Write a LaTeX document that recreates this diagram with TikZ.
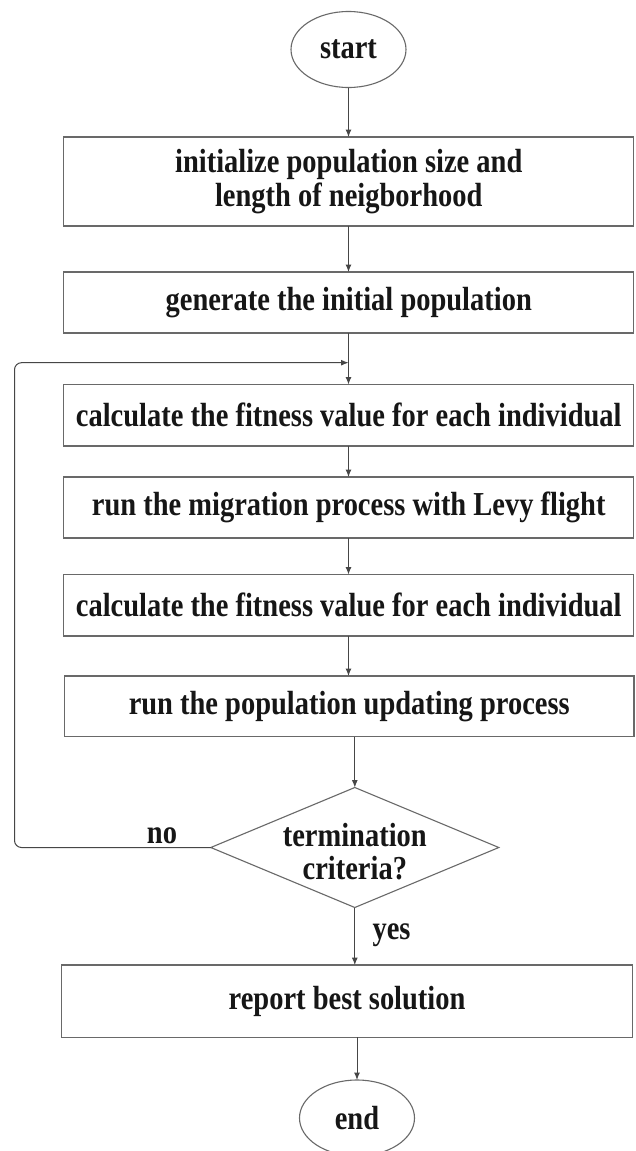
\documentclass[tikz,border=0pt]{standalone}
\usepackage{fontspec}
\newfontfamily\flowfont{Liberation Serif}[FakeStretch=0.85]
\usetikzlibrary{shapes.geometric,arrows.meta}

\definecolor{ink}{RGB}{22,22,22}
\definecolor{edge}{RGB}{105,105,105}
\definecolor{wire}{RGB}{70,70,70}

\tikzset{
  txt/.style={font=\flowfont\bfseries\fontsize{33.5}{33.5}\selectfont, text=ink, inner sep=0pt, outer sep=0pt},
  procbox/.style={txt, draw=edge, line width=1.2pt, rectangle, align=center, minimum width=570pt},
  terminal/.style={txt, draw=edge, line width=1.1pt, ellipse, minimum width=115pt, minimum height=76pt},
  decision/.style={draw=edge, line width=1.1pt, diamond, inner sep=0pt, outer sep=0pt, minimum width=288pt, minimum height=120pt},
  arr/.style={draw=wire, line width=1pt, -{Latex[length=7.5pt,width=6pt]}},
}

\begin{document}
\begin{tikzpicture}[x=1pt,y=-1pt]
  \useasboundingbox (0,0) rectangle (635,1151);
  \fill[white] (0,0) rectangle (635,1151);

  % terminals
  \node[terminal] (start) at (348.5,49.5) {start};
  \node[terminal] (stop)  at (357,1118) {end};

  % process steps
  \node[procbox, minimum height=89pt] (init) at (348.75,181.5)
    {initialize population size and\\length of neigborhood};
  \node[procbox, minimum height=61pt] (gen)  at (348.75,302.5) {generate the initial population};
  \node[procbox, minimum height=61.5pt] (fit1) at (348.75,415.25) {calculate the fitness value for each individual};
  \node[procbox, minimum height=61pt] (mig)  at (348.75,507.5) {run the migration process with Levy flight};
  \node[procbox, minimum height=61.5pt] (fit2) at (348.75,605.25) {calculate the fitness value for each individual};
  \node[procbox, minimum height=60.5pt, minimum width=569.5pt] (upd) at (349.25,706.25) {run the population updating process};

  % termination test
  \node[decision, label={[txt, align=center, yshift=-4pt]center:termination\\criteria?}] (test) at (354.8,847.5) {};

  \node[procbox, minimum height=72.3pt, minimum width=571pt] (report) at (347.1,1001.2) {report best solution};

  % branch labels
  \node[txt] (nolbl)  at (162,836) {no};
  \node[txt] (yeslbl) at (391.5,935) {yes};

  % loop-back corner
  \coordinate (loopx) at (14.5,362.7);

  % main flow
  \draw[arr] (start) -- (start |- init.north);
  \draw[arr] (start |- init.south) -- (start |- gen.north);
  \draw[arr] (start |- gen.south) -- (start |- fit1.north);
  \draw[arr] (start |- fit1.south) -- (start |- mig.north);
  \draw[arr] (start |- mig.south) -- (start |- fit2.north);
  \draw[arr] (start |- fit2.south) -- (start |- upd.north);
  \draw[arr] (test.north |- upd.south) -- (test.north);
  \draw[arr] (test.south) -- (test.south |- report.north);
  \draw[arr] (stop.north |- report.south) -- (stop.north);

  % "no" branch back to the fitness evaluation
  \draw[arr, rounded corners=7pt] (test.west) -| (loopx) -- (start |- loopx);
\end{tikzpicture}
\end{document}
